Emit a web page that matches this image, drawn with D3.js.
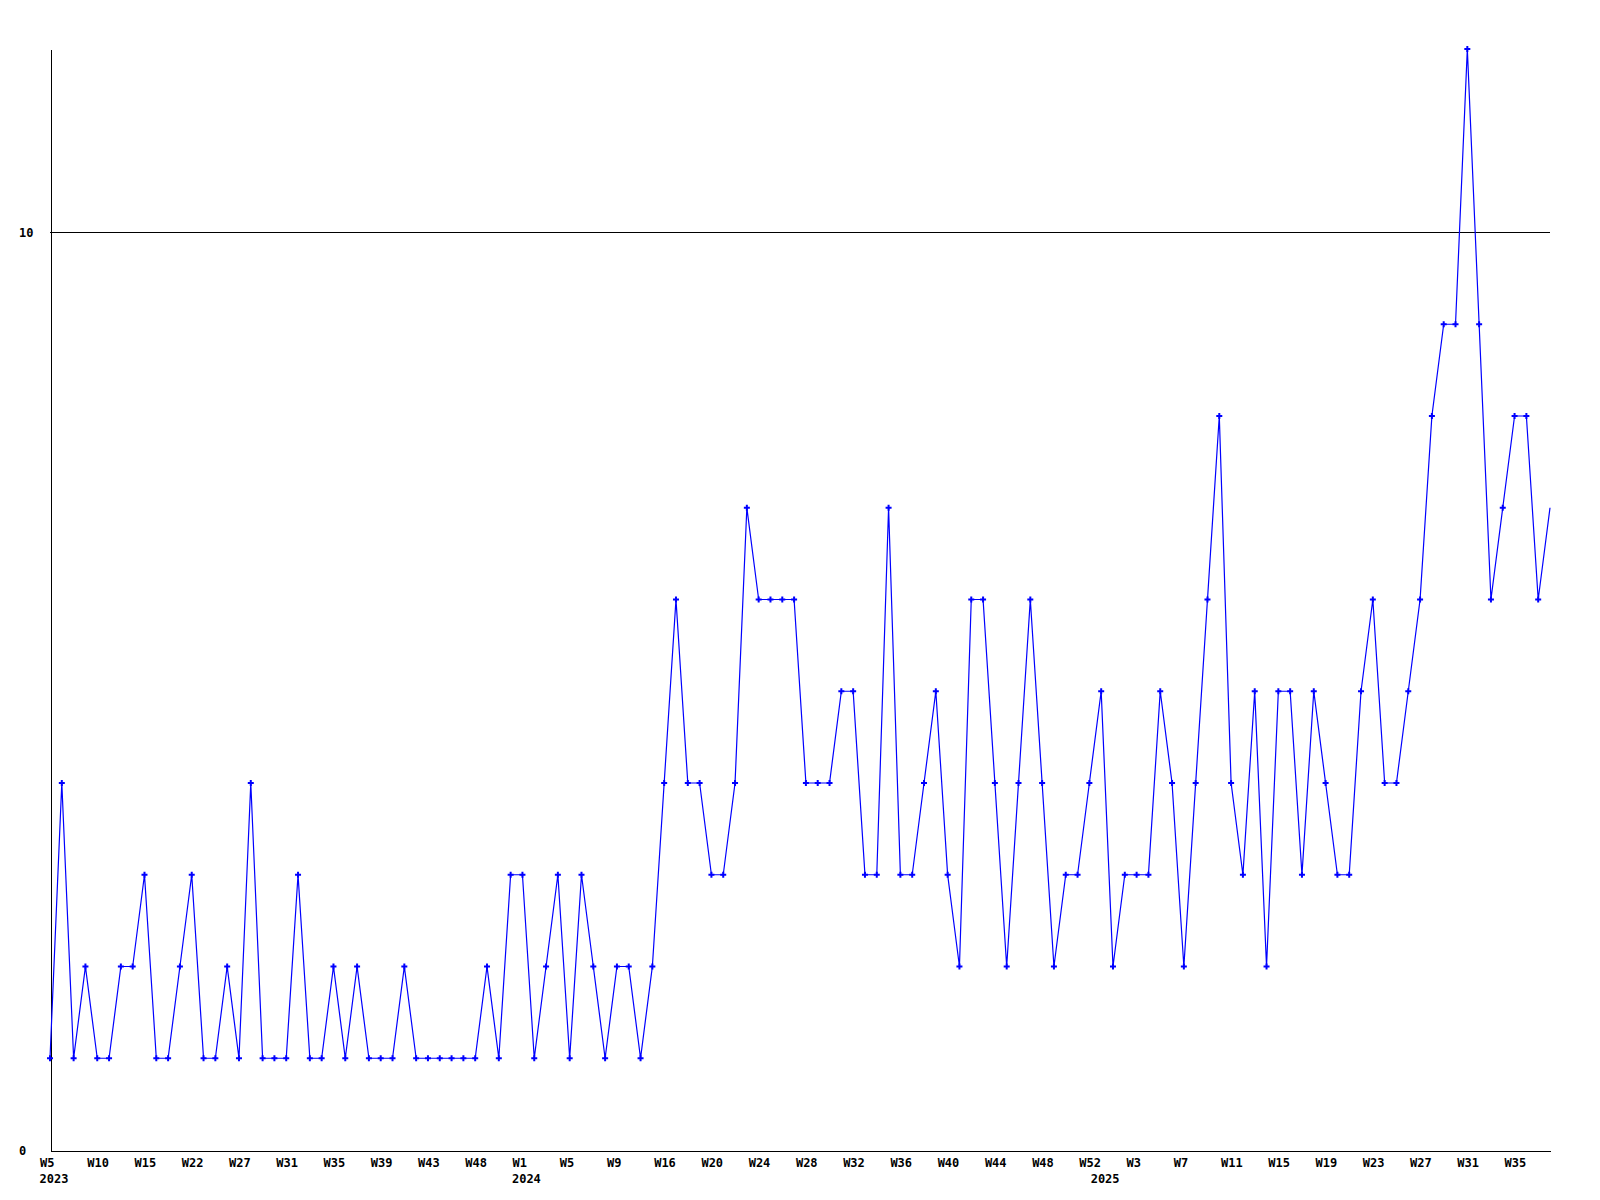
<!DOCTYPE html>
<html>
<head>
<meta charset="utf-8">
<script src="https://cdn.jsdelivr.net/npm/d3@7"></script>
<style>
  html, body { margin: 0; padding: 0; background: #ffffff; }
  svg { display: block; }
  text { font-family: "DejaVu Sans Mono", "Liberation Mono", monospace; font-weight: bold; font-size: 12px; fill: #000; }
</style>
</head>
<body>
<svg id="chart" width="1600" height="1200"></svg>
<script>
// Week categories (weeks with no entries are absent from the series)
const years = [
  2023,2023,2023,2023,2023,2023,2023,2023,2023,2023,2023,2023,2023,2023,2023,2023,2023,2023,2023,2023,
  2023,2023,2023,2023,2023,2023,2023,2023,2023,2023,2023,2023,2023,2023,2023,2023,2023,2023,2023,2023,
  2024,2024,2024,2024,2024,2024,2024,2024,2024,2024,2024,2024,2024,2024,2024,2024,2024,2024,2024,2024,
  2024,2024,2024,2024,2024,2024,2024,2024,2024,2024,2024,2024,2024,2024,2024,2024,2024,2024,2024,2024,
  2024,2024,2024,2024,2024,2024,2024,2024,2024,
  2025,2025,2025,2025,2025,2025,2025,2025,2025,2025,2025,2025,2025,2025,2025,2025,2025,2025,2025,2025,
  2025,2025,2025,2025,2025,2025,2025,2025,2025,2025,2025,2025,2025,2025,2025,2025,2025,2025,2025
];
const weeks = [
  5,6,7,8,10,11,12,13,15,16,18,20,22,23,24,25,27,28,29,30,
  31,32,33,34,35,36,37,38,39,40,41,42,43,44,45,46,48,49,50,51,
  1,2,3,4,5,6,7,8,9,10,12,14,16,17,18,19,20,21,22,23,
  24,25,26,27,28,29,30,31,32,33,34,35,36,37,38,39,40,41,42,43,
  44,45,46,47,48,49,50,51,52,
  0,1,2,3,4,5,6,7,8,9,10,11,12,13,14,15,16,17,18,19,
  20,21,22,23,24,25,26,27,28,29,30,31,32,33,34,35,36,37,38
];
const values = [
  1,4,1,2,1,1,2,2,3,1,1,2,3,1,1,2,1,4,1,1,
  1,3,1,1,2,1,2,1,1,1,2,1,1,1,1,1,1,2,1,3,
  3,1,2,3,1,3,2,1,2,2,1,2,4,6,4,4,3,3,4,7,
  6,6,6,6,4,4,4,5,5,3,3,7,3,3,4,5,3,2,6,6,
  4,2,4,6,4,2,3,3,4,
  5,2,3,3,3,5,4,2,4,6,8,4,3,5,2,5,5,3,5,4,
  3,3,5,6,4,4,5,6,8,9,9,12,9,6,7,8,8,6,7
];
const yTicks = [0, 10];
const tickEvery = 4;

const svg = d3.select("#chart");
const n = values.length;
const idx = d3.range(n);

const x = d3.scalePoint().domain(idx).range([50, 1550]);
const y = d3.scaleLinear().domain([0, 12]).range([1150, 49]);

// grid line at 10
svg.append("g")
  .selectAll("line")
  .data(yTicks.filter(v => v !== 0))
  .join("line")
  .attr("x1", 50).attr("x2", 1550)
  .attr("y1", d => Math.round(y(d)) + 0.5).attr("y2", d => Math.round(y(d)) + 0.5)
  .attr("stroke", "#000").attr("stroke-width", 1)
  .attr("shape-rendering", "crispEdges");

// x axis
const firstOfYear = idx.filter(i => i === 0 || years[i] !== years[i - 1]);
const xAxis = d3.axisBottom(x)
  .tickValues(idx.filter(i => i % tickEvery === 0))
  .tickSize(0).tickSizeOuter(0)
  .tickFormat(i => "W" + weeks[i]);
const gx = svg.append("g").attr("transform", "translate(0,1150.5)").call(xAxis);
gx.select(".domain").attr("stroke", "#000").attr("shape-rendering", "crispEdges");
gx.selectAll(".tick text")
  .attr("text-anchor", "start").attr("x", -10.5).attr("y", 16.5).attr("dy", 0)
  .attr("font-family", null).attr("font-size", null).attr("fill", "#000");
gx.selectAll(".tick line").remove();

// year labels under the first week of each year
svg.append("g")
  .selectAll("text")
  .data(firstOfYear)
  .join("text")
  .attr("x", i => x(i) - 10.5)
  .attr("y", 1183)
  .attr("text-anchor", "start")
  .text(i => years[i]);

// y axis
const yAxis = d3.axisLeft(y).tickValues(yTicks).tickSize(0).tickSizeOuter(0).tickFormat(d3.format("d"));
const gy = svg.append("g").attr("transform", "translate(50.5,0)").call(yAxis);
gy.select(".domain").attr("stroke", "#000").attr("shape-rendering", "crispEdges");
gy.selectAll(".tick text")
  .attr("text-anchor", "start").attr("x", -31.5).attr("dy", "0.35em")
  .attr("font-family", null).attr("font-size", null).attr("fill", "#000");

// series line
const line = d3.line().x(i => x(i)).y(i => y(values[i]));
svg.append("path")
  .datum(idx)
  .attr("d", line)
  .attr("fill", "none")
  .attr("stroke", "#0000ff")
  .attr("stroke-width", 1.2);

// point markers
const sym = d3.symbol(d3.symbolCross, 20);
svg.append("g")
  .selectAll("path")
  .data(idx.filter(i => i < n - 1))
  .join("path")
  .attr("transform", i => `translate(${x(i)},${y(values[i])})`)
  .attr("d", sym)
  .attr("fill", "#0000ff");
</script>
</body>
</html>
